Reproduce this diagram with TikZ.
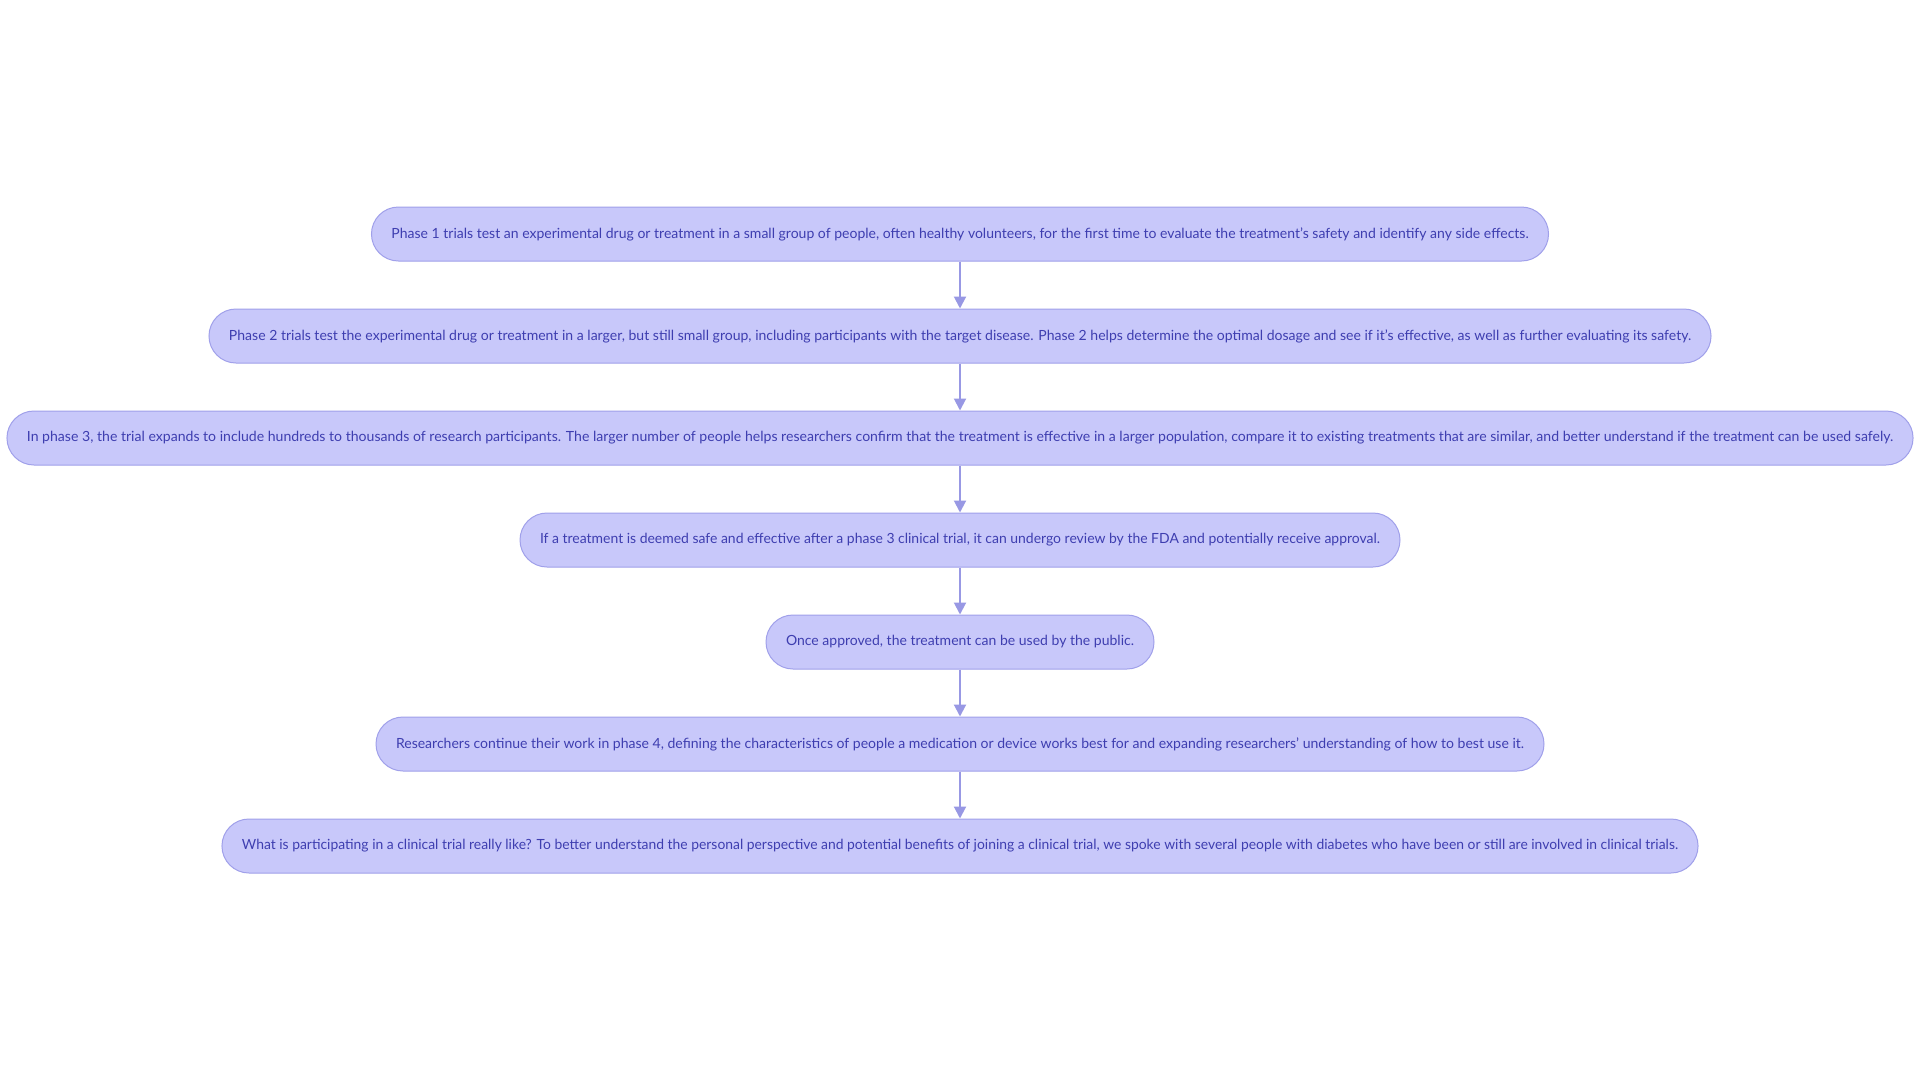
\documentclass[tikz,border=0pt]{standalone}
\usepackage{fontspec}
\setmainfont{Lato}
\usetikzlibrary{arrows.meta}
\definecolor{boxfill}{RGB}{200,200,250}
\definecolor{boxline}{RGB}{160,160,234}
\definecolor{boxtext}{RGB}{62,62,176}
\definecolor{arrowc}{RGB}{152,152,228}
\newcommand{\fitw}[2]{\resizebox{#1pt}{\height}{#2}}
\tikzset{
  pill/.style={draw=boxline, line width=1pt, fill=boxfill, rounded corners=27pt,
    minimum height=54pt, inner xsep=20pt, inner ysep=0pt, text=boxtext,
    font=\fontsize{14pt}{16pt}\selectfont},
  flow/.style={draw=arrowc, line width=2pt, -{Triangle[length=12pt,width=12pt]}, shorten >=0pt}
}
\begin{document}
\begin{tikzpicture}[x=1pt,y=1pt]
\useasboundingbox (0,0) rectangle (1920,-1080);
\fill[white] (0,0) rectangle (1920,-1080);
\node[pill] (n1) at (960,-234) {\fitw{1137}{Phase 1 trials test an experimental drug or treatment in a small group of people, often healthy volunteers, for the first time to evaluate the treatment's safety and identify any side effects.}};
\node[pill] (n2) at (960,-336) {\fitw{1462}{Phase 2 trials test the experimental drug or treatment in a larger, but still small group, including participants with the target disease. Phase 2 helps determine the optimal dosage and see if it's effective, as well as further evaluating its safety.}};
\node[pill] (n3) at (960,-438) {\fitw{1866}{In phase 3, the trial expands to include hundreds to thousands of research participants. The larger number of people helps researchers confirm that the treatment is effective in a larger population, compare it to existing treatments that are similar, and better understand if the treatment can be used safely.}};
\node[pill] (n4) at (960,-540) {\fitw{840}{If a treatment is deemed safe and effective after a phase 3 clinical trial, it can undergo review by the FDA and potentially receive approval.}};
\node[pill] (n5) at (960,-642) {\fitw{348}{Once approved, the treatment can be used by the public.}};
\node[pill] (n6) at (960,-744) {\fitw{1128}{Researchers continue their work in phase 4, defining the characteristics of people a medication or device works best for and expanding researchers' understanding of how to best use it.}};
\node[pill] (n7) at (960,-846) {\fitw{1436}{What is participating in a clinical trial really like? To better understand the personal perspective and potential benefits of joining a clinical trial, we spoke with several people with diabetes who have been or still are involved in clinical trials.}};
\draw[flow] (n1) -- (n2);
\draw[flow] (n2) -- (n3);
\draw[flow] (n3) -- (n4);
\draw[flow] (n4) -- (n5);
\draw[flow] (n5) -- (n6);
\draw[flow] (n6) -- (n7);
\end{tikzpicture}
\end{document}
